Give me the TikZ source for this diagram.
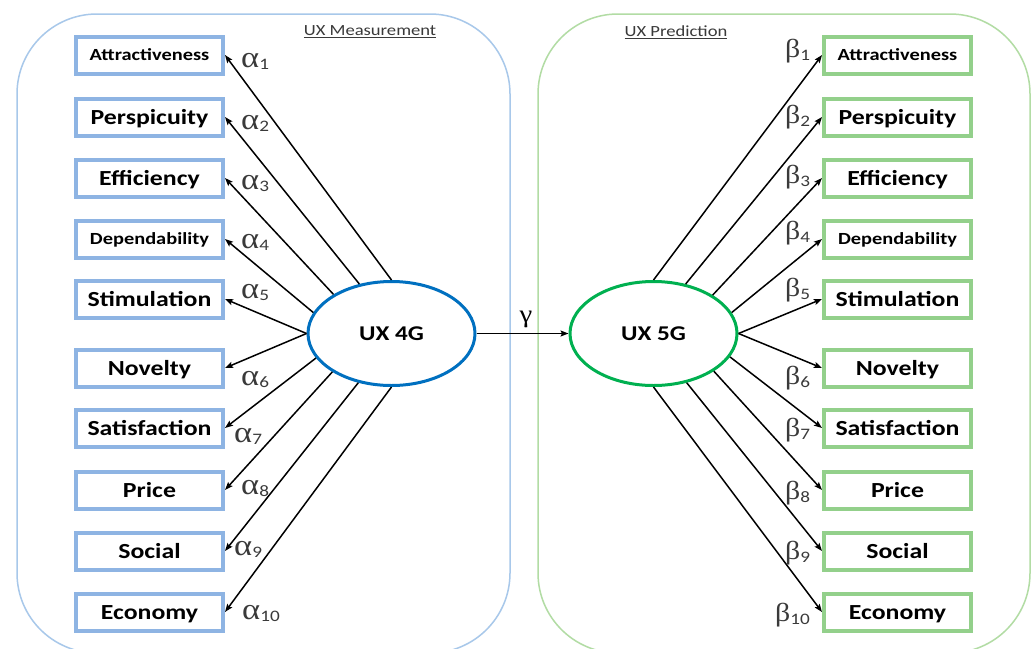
\documentclass[tikz,border=0pt]{standalone}
\usepackage{fontspec}
\setmainfont{Carlito}[FakeStretch=1.2]
\newfontfamily\grk{Liberation Serif}[FakeStretch=1.15]
\usetikzlibrary{arrows.meta,shapes.geometric}
\definecolor{boxblue}{HTML}{8EB4E3}
\definecolor{boxgreen}{HTML}{93D08B}
\definecolor{contblue}{HTML}{A8C8EA}
\definecolor{contgreen}{HTML}{B2DCA4}
\definecolor{ellblue}{HTML}{0070C0}
\definecolor{ellgreen}{HTML}{00B050}
\definecolor{lblgray}{HTML}{3A3A3A}
\newcommand\gA[1]{{\fontsize{30}{30}\grk α}\raisebox{-2pt}{\fontsize{16}{16}\selectfont #1}}
\newcommand\gB[1]{{\fontsize{26}{26}\grk β}\raisebox{-3pt}{\fontsize{16}{16}\selectfont #1}}
\begin{document}
\begin{tikzpicture}[x=1pt,y=-1pt,
  lbox/.style={draw=boxblue,line width=4pt,minimum width=147pt,minimum height=37pt,inner sep=0pt,text height=18pt,text depth=4pt,font=\fontsize{21.5}{22}\selectfont\bfseries},
  rbox/.style={lbox,draw=boxgreen},
  small/.style={text height=14pt,text depth=4pt,font=\fontsize{17}{18}\selectfont\bfseries},
  latent/.style={ellipse,line width=3pt,minimum width=167pt,minimum height=104pt,inner sep=0pt,font=\fontsize{21}{22}\selectfont\bfseries},
  arr/.style={line width=1.5pt,-{Stealth[length=8pt,width=6pt,inset=1.5pt]}},
  glbl/.style={anchor=base west,inner sep=0pt,text=lblgray},
  title/.style={inner sep=0pt,text=lblgray,font=\fontsize{15.5}{16}\selectfont}]
\path[use as bounding box,clip] (0,0) rectangle (1035,648);
\fill[white] (0,0) rectangle (1035,648);
% containers
\draw[contblue,line width=1.5pt,rounded corners=80pt] (17,14) rectangle (510,653);
\draw[contgreen,line width=1.5pt,rounded corners=80pt] (538,14) rectangle (1030,653);
\node[title] (t1) at (370,32) {\underline{UX Measurement}};
\node[title] (t2) at (676,32) {\underline{UX Prediction}};
% latent variables
\node[latent,draw=ellblue] (ux4) at (391.5,333.5) {UX 4G};
\node[latent,draw=ellgreen] (ux5) at (653.5,333.5) {UX 5G};
\draw[arr] (ux4.east) -- (ux5.west);
\node[anchor=base,inner sep=0pt] (g) at (526,322) {\fontsize{25}{25}\grk γ};
% left boxes
\node[lbox,small] (la1) at (149.5,55) {Attractiveness};
\node[lbox] (la2) at (149.5,117) {Perspicuity};
\node[lbox] (la3) at (149.5,178) {Efficiency};
\node[lbox,small] (la4) at (149.5,239) {Dependability};
\node[lbox] (la5) at (149.5,299) {Stimulation};
\node[lbox] (la6) at (149.5,368) {Novelty};
\node[lbox] (la7) at (149.5,428) {Satisfaction};
\node[lbox] (la8) at (149.5,490) {Price};
\node[lbox] (la9) at (149.5,551) {Social};
\node[lbox] (la10) at (149.5,612) {Economy};
% right boxes
\node[rbox,small] (rb1) at (897.5,55) {Attractiveness};
\node[rbox] (rb2) at (897.5,117) {Perspicuity};
\node[rbox] (rb3) at (897.5,178) {Efficiency};
\node[rbox,small] (rb4) at (897.5,239) {Dependability};
\node[rbox] (rb5) at (897.5,299) {Stimulation};
\node[rbox] (rb6) at (897.5,368) {Novelty};
\node[rbox] (rb7) at (897.5,428) {Satisfaction};
\node[rbox] (rb8) at (897.5,490) {Price};
\node[rbox] (rb9) at (897.5,551) {Social};
\node[rbox] (rb10) at (897.5,612) {Economy};
% left arrows
\draw[arr] (ux4.90) -- (la1.east);
\draw[arr] (ux4.123) -- (la2.east);
\draw[arr] (ux4.146.5) -- (la3.east);
\draw[arr] (ux4.165) -- (la4.east);
\draw[arr] (ux4.180) -- (la5.east);
\draw[arr] (ux4.180) -- (la6.east);
\draw[arr] (ux4.198) -- (la7.east);
\draw[arr] (ux4.213) -- (la8.east);
\draw[arr] (ux4.236) -- (la9.east);
\draw[arr] (ux4.270) -- (la10.east);
% right arrows
\draw[arr] (ux5.90) -- (rb1.west);
\draw[arr] (ux5.57) -- (rb2.west);
\draw[arr] (ux5.33) -- (rb3.west);
\draw[arr] (ux5.15) -- (rb4.west);
\draw[arr] (ux5.0) -- (rb5.west);
\draw[arr] (ux5.0) -- (rb6.west);
\draw[arr] (ux5.-17) -- (rb7.west);
\draw[arr] (ux5.-32) -- (rb8.west);
\draw[arr] (ux5.-56) -- (rb9.west);
\draw[arr] (ux5.-90) -- (rb10.west);
% alpha labels
\node[glbl] (a1) at (241,67) {\gA{1}};
\node[glbl] (a2) at (241,129) {\gA{2}};
\node[glbl] (a3) at (241,189) {\gA{3}};
\node[glbl] (a4) at (241,248) {\gA{4}};
\node[glbl] (a5) at (241,298) {\gA{5}};
\node[glbl] (a6) at (241,385) {\gA{6}};
\node[glbl] (a7) at (234,442) {\gA{7}};
\node[glbl] (a8) at (241,494) {\gA{8}};
\node[glbl] (a9) at (234,555) {\gA{9}};
\node[glbl] (a10) at (242,619) {\gA{10}};
% beta labels
\node[glbl] (b1) at (785,57) {\gB{1}};
\node[glbl] (b2) at (785,123) {\gB{2}};
\node[glbl] (b3) at (785,183) {\gB{3}};
\node[glbl] (b4) at (785,239) {\gB{4}};
\node[glbl] (b5) at (785,296) {\gB{5}};
\node[glbl] (b6) at (785,384) {\gB{6}};
\node[glbl] (b7) at (785,436) {\gB{7}};
\node[glbl] (b8) at (785,499) {\gB{8}};
\node[glbl] (b9) at (785,559) {\gB{9}};
\node[glbl] (b10) at (775,621) {\gB{10}};
\end{tikzpicture}
\end{document}
